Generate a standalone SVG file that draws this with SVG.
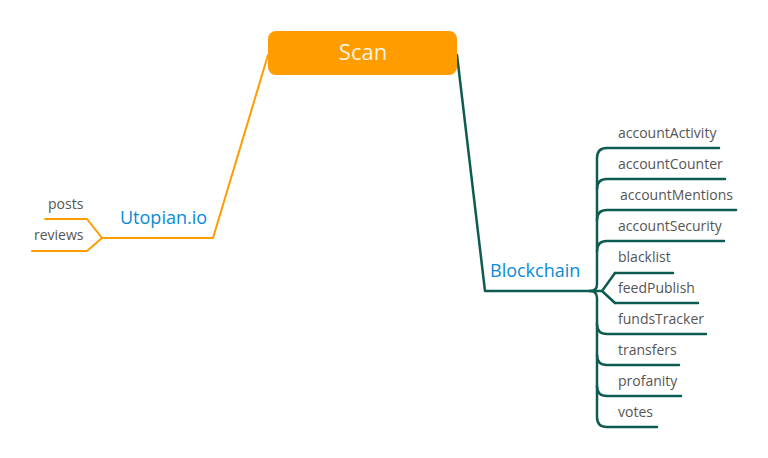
<svg xmlns="http://www.w3.org/2000/svg" width="768" height="458" viewBox="0 0 768 458">
<style>
.o{fill:none;stroke:#FF9C00;stroke-width:2;stroke-linejoin:round;stroke-linecap:round}
.t{fill:none;stroke:#0E5B52;stroke-width:2.5;stroke-linejoin:round;stroke-linecap:round}
.leaf{font-family:"Open Sans","Noto Sans",sans-serif;font-size:14px;fill:#555}
.mid{font-family:"Open Sans","Noto Sans",sans-serif;font-size:18px;fill:#0A8BD6}
</style>
<rect width="768" height="458" fill="#fff"/>
<g id="connectors">
<path class="o" d="M268,55 L213,238 L102,238"/>
<path class="o" d="M45,219 L87,219 L102,238 L87,251 L32,251"/>
<path class="t" d="M457,55 L485,291 L590,291"/>
<path class="t" d="M590,291 Q597,291 597,284 L597,158 Q597,148 607,148 L719,148"/>
<path class="t" d="M590,291 Q597,291 597,298 L597,417 Q597,427 607,427 L657,427"/>
<path class="t" d="M597,189 Q597,179 607,179 L725,179"/>
<path class="t" d="M597,220 Q597,210 607,210 L736,210"/>
<path class="t" d="M597,251 Q597,241 607,241 L724,241"/>
<path class="t" d="M615,273 L673,273"/>
<path class="t" d="M615,303 L698,303"/>
<path class="t" d="M590,291 L602,291 L615,273 M602,291 L615,303"/>
<path class="t" d="M597,324 Q597,334 607,334 L706,334"/>
<path class="t" d="M597,355 Q597,365 607,365 L679,365"/>
<path class="t" d="M597,386 Q597,396 607,396 L681,396"/>
</g>
<g id="scan">
<rect x="268" y="31" width="189" height="44" rx="8" fill="#FF9C00"/>
<text x="363" y="60" text-anchor="middle" font-family="'Open Sans','Noto Sans',sans-serif" font-size="22" fill="#FFF3DF">Scan</text>
</g>
<g id="utopian"><text class="mid" x="120" y="224">Utopian.io</text></g>
<g id="posts"><text class="leaf" x="48" y="209">posts</text></g>
<g id="reviews"><text class="leaf" x="34" y="240">reviews</text></g>
<g id="blockchain"><text class="mid" x="490" y="277">Blockchain</text></g>
<g id="accountActivity"><text class="leaf" x="618" y="138">accountActivity</text></g>
<g id="accountCounter"><text class="leaf" x="618" y="169">accountCounter</text></g>
<g id="accountMentions"><text class="leaf" x="620" y="200">accountMentions</text></g>
<g id="accountSecurity"><text class="leaf" x="618" y="231">accountSecurity</text></g>
<g id="blacklist"><text class="leaf" x="618" y="262">blacklist</text></g>
<g id="feedPublish"><text class="leaf" x="618" y="293">feedPublish</text></g>
<g id="fundsTracker"><text class="leaf" x="618" y="324">fundsTracker</text></g>
<g id="transfers"><text class="leaf" x="618" y="355">transfers</text></g>
<g id="profanity"><text class="leaf" x="618" y="386">profanity</text></g>
<g id="votes"><text class="leaf" x="618" y="417">votes</text></g>
</svg>
